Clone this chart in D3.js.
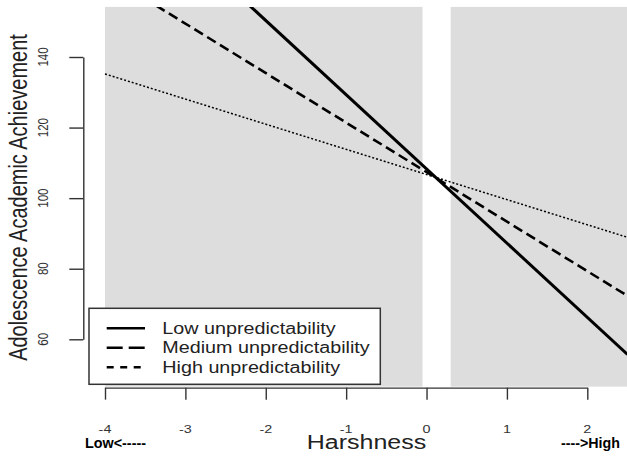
<!DOCTYPE html>
<html>
<head>
<meta charset="utf-8">
<script src="https://cdn.jsdelivr.net/npm/d3@7"></script>
<style>
  body { margin: 0; background: #fff; }
  text { font-family: "Liberation Sans", Arial, sans-serif; }
</style>
</head>
<body>
<div id="chart"></div>
<script>
// data
const harshness = [-4, 2.5];                 // line end points (x)
const lowUnpred = [192.4, 55.7];
const medUnpred = [163.5, 72.3];
const highUnpred = [135.2, 88.9];
const seriesNames = ["Low unpredictability", "Medium unpredictability", "High unpredictability"];

// shaded regions along harshness
const bandStart = [-4, 0.3];
const bandEnd = [-0.05, 2.7];

const xTicks = [-4, -3, -2, -1, 0, 1, 2];
const yTicks = [60, 80, 100, 120, 140];

// the plot region (user coords)
const usrX = [-4.27, 2.7];
const usrY = [46.3, 154.2];

const W = 627, H = 457;
const stretch = 1.25; // the original image is widened a bit

const svg = d3.select("#chart")
  .append("svg")
    .attr("width", W)
    .attr("height", H);

const x = d3.scaleLinear().domain([-4, 2]).range([105, 587.3]);
const y = d3.scaleLinear().domain([60, 140]).range([339.3, 57]);

svg.append("clipPath").attr("id", "plotclip")
  .append("rect")
    .attr("x", x(usrX[0]))
    .attr("y", y(usrY[1]))
    .attr("width", x(usrX[1]) - x(usrX[0]))
    .attr("height", y(usrY[0]) - y(usrY[1]));

// grey bands
svg.append("g")
  .selectAll("rect")
  .data(bandStart.map((s, i) => ({ s, e: bandEnd[i] })))
  .join("rect")
    .attr("x", d => x(d.s))
    .attr("width", d => x(d.e) - x(d.s))
    .attr("y", y(usrY[1]))
    .attr("height", y(usrY[0]) - y(usrY[1]) - 1)
    .attr("fill", "#dddddd");

// regression lines
const series = [
  { name: seriesNames[0], vals: lowUnpred, width: 3, dash: null },
  { name: seriesNames[1], vals: medUnpred, width: 2.6, dash: "10,5" },
  { name: seriesNames[2], vals: highUnpred, width: 1.5, dash: "2,2" }
];

const line = d3.line().x(d => x(d[0])).y(d => y(d[1]));

svg.append("g")
  .attr("clip-path", "url(#plotclip)")
  .selectAll("path")
  .data(series)
  .join("path")
    .attr("d", d => line(harshness.map((h, i) => [h, d.vals[i]])))
    .attr("fill", "none")
    .attr("stroke", "#000")
    .attr("stroke-width", d => d.width)
    .attr("stroke-dasharray", d => d.dash);

// axes
const xAxis = svg.append("g")
  .attr("transform", `translate(0,${y(usrY[0])})`)
  .call(d3.axisBottom(x).tickValues(xTicks).tickSize(12).tickSizeOuter(0).tickFormat(""));
const yAxis = svg.append("g")
  .attr("transform", `translate(${x(usrX[0])},0)`)
  .call(d3.axisLeft(y).tickValues(yTicks).tickSize(14).tickSizeOuter(0).tickFormat(""));
[xAxis, yAxis].forEach(a => {
  a.selectAll("path, line").attr("stroke", "#333").attr("stroke-width", 1.4);
});

// helper for widened text
function addText(px, py, str, size, opts = {}) {
  const rot = opts.rotate ? ` rotate(${opts.rotate})` : "";
  return svg.append("text")
    .attr("transform", `translate(${px},${py}) scale(${stretch},1)${rot}`)
    .attr("text-anchor", opts.anchor || "middle")
    .attr("font-size", size)
    .attr("fill", opts.fill || "#333")
    .text(str);
}

xTicks.forEach(t => addText(x(t), 433, t, 11.5));
yTicks.forEach(t => addText(48.3, y(t), t, 11.5, { rotate: -90 }));

addText(366.5, 449, "Harshness", 20, { fill: "#222" });
addText(27, 197.5, "Adolescence Academic Achievement", 20, { rotate: -90, fill: "#222" });

// low / high hints under the axis
svg.append("text")
  .attr("x", 85).attr("y", 448)
  .attr("font-family", "Lato, sans-serif")
  .attr("font-weight", "bold")
  .attr("font-size", 14)
  .attr("textLength", 61).attr("lengthAdjust", "spacingAndGlyphs")
  .text("Low<-----");
svg.append("text")
  .attr("x", 561).attr("y", 448)
  .attr("font-family", "Lato, sans-serif")
  .attr("font-weight", "bold")
  .attr("font-size", 14)
  .attr("textLength", 59).attr("lengthAdjust", "spacingAndGlyphs")
  .text("---->High");

// legend
const legend = svg.append("g");
legend.append("rect")
  .attr("x", 89).attr("y", 308.3)
  .attr("width", 291.3).attr("height", 76)
  .attr("fill", "#fff")
  .attr("stroke", "#333")
  .attr("stroke-width", 1.5);

const legDash = [null, "16,6", "7,6.5"];
series.forEach((s, i) => {
  const ly = 328.3 + i * 19.5;
  legend.append("line")
    .attr("x1", 106.7).attr("x2", 145)
    .attr("y1", ly).attr("y2", ly)
    .attr("stroke", "#000")
    .attr("stroke-width", 2.6)
    .attr("stroke-dasharray", legDash[i]);
  addText(162.3, ly + 5.2, s.name, 15.8, { anchor: "start", fill: "#222" });
});
</script>
</body>
</html>
